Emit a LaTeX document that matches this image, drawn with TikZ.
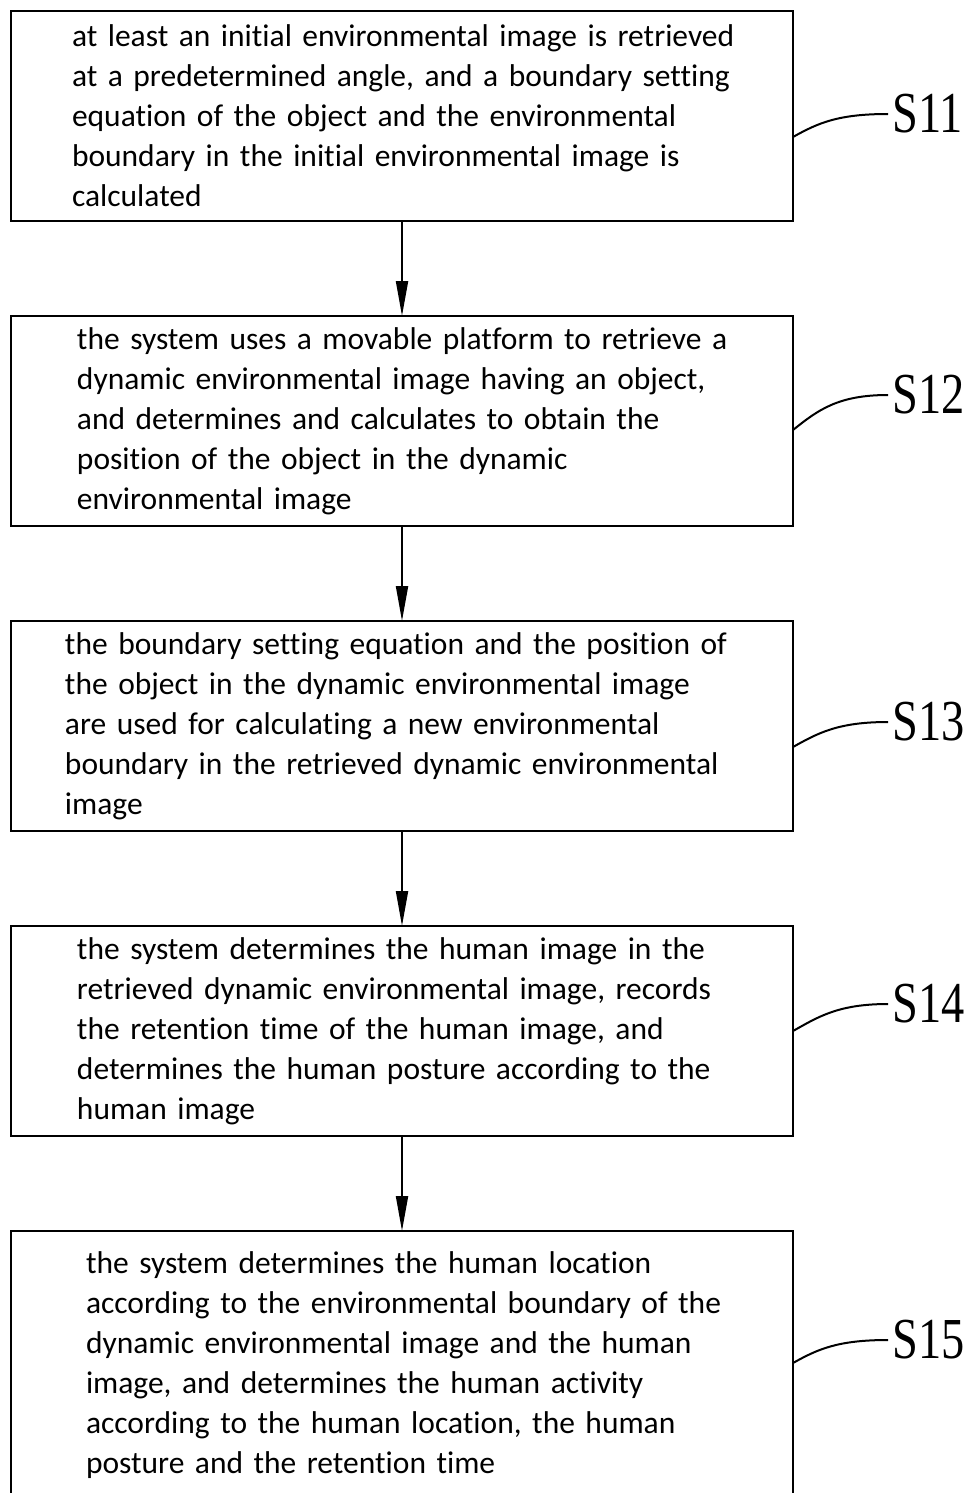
\documentclass[tikz,border=0pt]{standalone}
\usepackage{fontspec}
\usepackage{graphicx}
\setmainfont{Carlito}[Ligatures={NoCommon}]
\newfontfamily\labelfont{Liberation Serif}
\usetikzlibrary{arrows.meta}
\usetikzlibrary{positioning}

\begin{document}
\begin{tikzpicture}[x=1pt,y=-1pt]
\tikzset{font=\fontsize{31.5}{40}\selectfont}
\tikzset{stepbox/.style={draw, line width=2pt, outer sep=0pt, align=left, minimum width=782pt, minimum height=210pt, inner xsep=4pt, inner ysep=2pt, text width=774pt, execute at begin node={\leftskip=#1}}}
\tikzset{steplabel/.style={anchor=west, inner sep=0pt, font=\labelfont\fontsize{58}{58}\selectfont}}
\tikzset{flow/.style={draw, line width=2pt, -{Triangle[length=35pt, width=12pt]}}}
\tikzset{leader/.style={draw, line width=2pt}}
\useasboundingbox (0,0) rectangle (968,1493);
\node[stepbox=57pt] (b1) at (402,116) {at least an initial environmental image is retrieved\\ at a predetermined angle, and a boundary setting\\ equation of the object and the environmental\\ boundary in the initial environmental image is\\ calculated};
\node[stepbox=62pt, below=95pt of b1] (b2) {the system uses a movable platform to retrieve a\\ dynamic environmental image having an object,\\ and determines and calculates to obtain the\\ position of the object in the dynamic\\ environmental image};
\node[stepbox=50pt, below=95pt of b2] (b3) {the boundary setting equation and the position of\\ the object in the dynamic environmental image\\ are used for calculating a new environmental\\ boundary in the retrieved dynamic environmental\\ image};
\node[stepbox=62pt, below=95pt of b3] (b4) {the system determines the human image in the\\ retrieved dynamic environmental image, records\\ the retention time of the human image, and\\ determines the human posture according to the\\ human image};
\node[stepbox=71pt, minimum height=268pt, below=95pt of b4] (b5) {the system determines the human location\\ according to the environmental boundary of the\\ dynamic environmental image and the human\\ image, and determines the human activity\\ according to the human location, the human\\ posture and the retention time};
\node[steplabel] (s1) at (892,114) {\scalebox{0.8}[1]{S11}};
\node[steplabel] (s2) at (892,395) {\scalebox{0.8}[1]{S12}};
\node[steplabel] (s3) at (892,722) {\scalebox{0.8}[1]{S13}};
\node[steplabel] (s4) at (892,1004) {\scalebox{0.8}[1]{S14}};
\node[steplabel] (s5) at (892,1340) {\scalebox{0.8}[1]{S15}};
\draw[flow] (b1) -- (b2);
\draw[flow] (b2) -- (b3);
\draw[flow] (b3) -- (b4);
\draw[flow] (b4) -- (b5);
\draw[leader] ([yshift=-21pt]b1.east) .. controls +(25,-14) and +(-50,0) .. ([xshift=-4pt]s1.west);
\draw[leader] ([yshift=-9pt]b2.east) .. controls +(25,-20) and +(-50,0) .. ([xshift=-4pt]s2.west);
\draw[leader] ([yshift=-21pt]b3.east) .. controls +(25,-14) and +(-50,0) .. ([xshift=-4pt]s3.west);
\draw[leader] (b4.east) .. controls +(25,-14) and +(-50,0) .. ([xshift=-4pt]s4.west);
\draw[leader] ([yshift=2pt]b5.east) .. controls +(25,-14) and +(-50,0) .. ([xshift=-4pt]s5.west);
\end{tikzpicture}
\end{document}
